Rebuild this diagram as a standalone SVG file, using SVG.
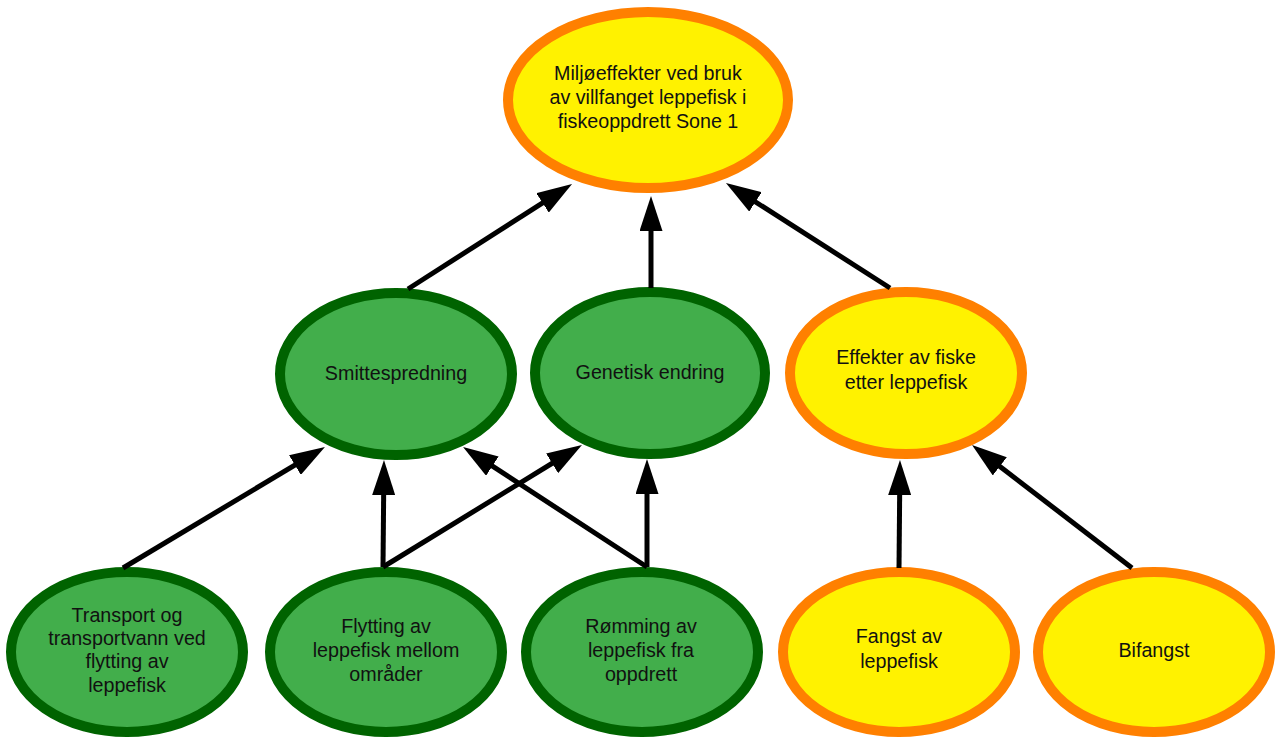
<svg xmlns="http://www.w3.org/2000/svg" width="1276" height="738" viewBox="0 0 1276 738">
<defs>
<style>
.y{fill:#FFF200;stroke:#FF8000;stroke-width:10}
.g{fill:#42AE4B;stroke:#006300;stroke-width:10}
text{font-family:"Liberation Sans",Arial,sans-serif;font-size:19.7px;fill:#111;text-anchor:middle}
.c line{stroke:#000;stroke-width:5;marker-end:url(#ah)}
</style>
<marker id="ah" markerUnits="userSpaceOnUse" markerWidth="35" markerHeight="23" refX="15" refY="11.5" orient="auto" viewBox="0 0 35 23">
<path d="M0,0 L35,11.5 L0,23 z" fill="#000"/>
</marker>
</defs>
<rect width="1276" height="738" fill="#fff"/>
<g id="top">
<ellipse class="y" cx="648" cy="100" rx="140" ry="88"/>
<text x="648" y="80">Miljøeffekter ved bruk</text>
<text x="648" y="104">av villfanget leppefisk i</text>
<text x="648" y="128">fiskeoppdrett Sone 1</text>
</g>
<g id="smitte">
<ellipse class="g" cx="396" cy="374" rx="116" ry="81"/>
<text x="396" y="380">Smittespredning</text>
</g>
<g id="genetisk">
<ellipse class="g" cx="650" cy="373" rx="115" ry="81"/>
<text x="650" y="379">Genetisk endring</text>
</g>
<g id="effekter">
<ellipse class="y" cx="906" cy="373" rx="116" ry="81"/>
<text x="906" y="364">Effekter av fiske</text>
<text x="906" y="389">etter leppefisk</text>
</g>
<g id="transport">
<ellipse class="g" cx="127" cy="652" rx="116" ry="80"/>
<text x="127" y="622">Transport og</text>
<text x="127" y="645">transportvann ved</text>
<text x="127" y="668">flytting av</text>
<text x="127" y="692">leppefisk</text>
</g>
<g id="flytting">
<ellipse class="g" cx="386" cy="652" rx="116" ry="80"/>
<text x="386" y="633">Flytting av</text>
<text x="386" y="657">leppefisk mellom</text>
<text x="386" y="681">områder</text>
</g>
<g id="romming">
<ellipse class="g" cx="642" cy="652" rx="116" ry="80"/>
<text x="641" y="633">Rømming av</text>
<text x="641" y="657">leppefisk fra</text>
<text x="641" y="681">oppdrett</text>
</g>
<g id="fangst">
<ellipse class="y" cx="899" cy="652" rx="116" ry="80"/>
<text x="899" y="643">Fangst av</text>
<text x="899" y="668">leppefisk</text>
</g>
<g id="bifangst">
<ellipse class="y" cx="1154" cy="652" rx="116" ry="80"/>
<text x="1154" y="657">Bifangst</text>
</g>
<g id="connectors" class="c">
<line x1="408" y1="289" x2="555.2" y2="194.8"/>
<line x1="651" y1="288" x2="651" y2="216"/>
<line x1="890" y1="288" x2="742.8" y2="193.8"/>
<line x1="123" y1="568" x2="307.8" y2="457.3"/>
<line x1="383" y1="567" x2="383.8" y2="480"/>
<line x1="383" y1="567" x2="564.9" y2="455.5"/>
<line x1="647" y1="567" x2="479.8" y2="457.9"/>
<line x1="647" y1="567" x2="647" y2="479"/>
<line x1="899" y1="568" x2="899.8" y2="480"/>
<line x1="1132" y1="568" x2="987.9" y2="457.2"/>
</g>
</svg>
